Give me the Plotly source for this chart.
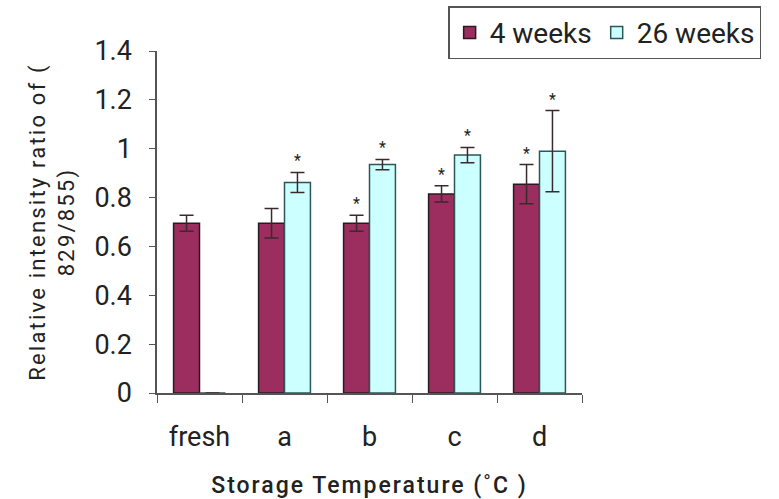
import plotly.graph_objects as go

categories = ["fresh", "a", "b", "c", "d"]
weeks4 = [0.695, 0.695, 0.695, 0.815, 0.855]
weeks4_err = [0.033, 0.06, 0.033, 0.033, 0.08]
weeks26 = [0.0, 0.862, 0.935, 0.974, 0.99]
weeks26_err = [0.0, 0.041, 0.021, 0.031, 0.166]
star4 = [False, False, True, True, True]
star26 = [False, True, True, True, True]
y_ticks = [0, 0.2, 0.4, 0.6, 0.8, 1, 1.2, 1.4]

FONT = "Roboto"
TXT = "#222"
fig = go.Figure()
fig.add_trace(go.Bar(
    name="4 weeks", x=categories, y=weeks4,
    marker=dict(color="#9B2D5F", line=dict(color="#2a1a20", width=1.5)),
    error_y=dict(type="data", array=weeks4_err, visible=True, color="#3a2a2e", thickness=1.5, width=7),
))
fig.add_trace(go.Bar(
    name="26 weeks", x=categories, y=weeks26,
    marker=dict(color="#CCFFFF", line=dict(color="#2d5656", width=1.5)),
    error_y=dict(type="data", array=weeks26_err, visible=True, color="#3a2a2e", thickness=1.5, width=7),
))

bargap = 0.39
half = (1 - bargap) / 4
for i, c in enumerate(categories):
    if star4[i]:
        fig.add_annotation(x=i - half, y=weeks4[i] + weeks4_err[i], text="*", showarrow=False,
                           yanchor="bottom", yshift=0, font=dict(family=FONT, size=16, color=TXT))
    if star26[i]:
        fig.add_annotation(x=i + half, y=weeks26[i] + weeks26_err[i], text="*", showarrow=False,
                           yanchor="bottom", yshift=0, font=dict(family=FONT, size=16, color=TXT))

fig.update_layout(
    width=779, height=499,
    margin=dict(l=157, r=197, t=51, b=106, autoexpand=False),
    paper_bgcolor="white", plot_bgcolor="white",
    barmode="group", bargap=bargap, bargroupgap=0,
    font=dict(family=FONT, color=TXT),
    showlegend=True,
    legend=dict(orientation="h", x=0.685, y=1.131, xanchor="left", yanchor="top",
                bordercolor="#555", borderwidth=1.5, font=dict(size=28, family=FONT, color=TXT),
                itemwidth=30, traceorder="normal", bgcolor="white"),
    xaxis=dict(
        automargin=False,
        showline=True, linecolor="#555", linewidth=1.5,
        ticks="outside", ticklen=8, tickcolor="#555", tickson="boundaries",
        tickfont=dict(size=27, family=FONT, color=TXT), ticklabelstandoff=19,
        title=dict(text="Storage Temperature (˚C )", font=dict(size=23, family=FONT, color=TXT, weight=500), standoff=26),
        showgrid=False, zeroline=False,
    ),
    yaxis=dict(
        automargin=False,
        range=[0, 1.4], tickvals=y_ticks, ticktext=[f"{v:g}" for v in y_ticks],
        showline=True, linecolor="#555", linewidth=1.5,
        ticks="outside", ticklen=6, tickcolor="#555",
        tickfont=dict(size=27, family=FONT, color=TXT), ticklabelstandoff=12,
        title=dict(text="Relative intensity ratio of (<br>829/855)", font=dict(size=22, family=FONT, color=TXT), standoff=14),
        showgrid=False, zeroline=False,
    ),
)
post = (
    "document.querySelectorAll('.xtitle').forEach(function(e){e.style.letterSpacing='2px';});"
    "document.querySelectorAll('.ytitle').forEach(function(e){e.style.letterSpacing='2.2px';});"
)
fig.write_html("out.html", post_script=post)
